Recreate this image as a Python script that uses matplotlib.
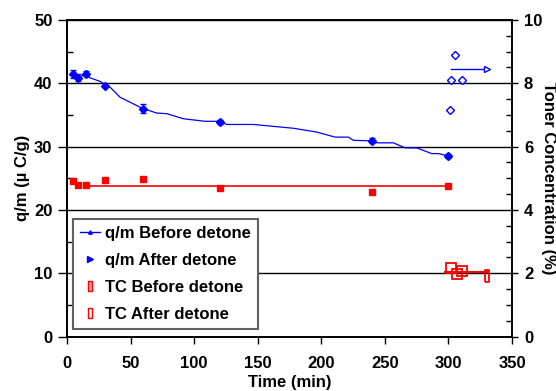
import matplotlib
matplotlib.use("Agg")
import matplotlib.pyplot as plt
from matplotlib.lines import Line2D
from matplotlib.ticker import MultipleLocator

FAMILY = ["Liberation Sans", "DejaVu Sans"]
FS = 12
plt.rcParams["font.family"] = FAMILY
plt.rcParams["font.weight"] = "bold"

BLUE = "#0000ff"
RED = "#ff0000"

# q/m before detone (left axis, uC/g)
qm_before_t = [5, 9, 15, 30, 60, 120, 240, 300]
qm_before = [41.5, 40.9, 41.5, 39.6, 36.0, 33.9, 30.9, 28.5]
qm_before_err = [0.6, 0.6, 0.4, 0.2, 0.7, 0.3, 0.4, 0.3]

# trend line drawn through the before-detone q/m data
qm_line_t = [5, 9, 15, 17.6, 26, 33.8, 41.7, 58.7, 70.5, 78.4, 91.5, 108.5,
             120.3, 125.6, 146.5, 167.5, 178, 196.4, 210.8, 221.3, 225.2,
             239.6, 243.6, 256.7, 265.9, 275, 286.8, 292.1, 300.5]
qm_line = [41.5, 40.9, 41.5, 40.9, 40.3, 39.4, 37.8, 36.1, 35.3, 35.2, 34.4,
           34.0, 34.0, 33.5, 33.5, 33.1, 32.9, 32.3, 31.5, 31.5, 31.0, 30.9,
           30.6, 30.6, 29.8, 29.8, 28.9, 28.9, 28.5]

# q/m after detone
qm_after_t = [301.3, 302, 305.5, 311]
qm_after = [35.8, 40.5, 44.5, 40.5]
qm_after_last_t = 330.6
qm_after_last = 42.3
qm_after_line_t = [302, 330.6]

# toner concentration (right axis, %)
tc_before_t = [5, 9, 15, 30, 60, 120, 240, 300]
tc_before = [4.90, 4.80, 4.80, 4.94, 4.98, 4.69, 4.56, 4.77]
tc_before_mean_t = [15, 300]
tc_before_mean = 4.77

tc_after_t = [302, 306.5, 310.5]
tc_after = [2.16, 1.98, 2.06]
tc_after_last_t = 330.6
tc_after_last = 1.93
tc_after_line_t = [297.5, 331]
tc_after_mean = 2.03

# narrow upright rectangle used as a marker
TALL_RECT = [(-0.35, -1), (0.35, -1), (0.35, 1), (-0.35, 1), (-0.35, -1)]

fig = plt.figure(figsize=(5.56, 3.91), dpi=100)
ax = fig.add_axes([0.1205, 0.139, 0.8005, 0.81])
ax2 = ax.twinx()

# --- left axis -------------------------------------------------------------
ax.plot(qm_line_t, qm_line, color=BLUE, lw=0.9, zorder=3)
ax.errorbar(qm_before_t, qm_before, yerr=qm_before_err, fmt="D", color=BLUE,
            ms=4.5, capsize=2, elinewidth=1, zorder=4)
ax.plot(qm_after_t, qm_after, "D", ms=4.5, mfc="white", mec=BLUE, mew=1,
        zorder=4)
ax.plot(qm_after_line_t, [qm_after_last] * 2, color=BLUE, lw=1, zorder=3)
ax.plot([qm_after_last_t], [qm_after_last], ">", ms=4, mfc="white", mec=BLUE,
        mew=1, zorder=4)

ax.set_xlim(0, 350)
ax.set_ylim(0, 50)
ax.xaxis.set_major_locator(MultipleLocator(50))
ax.yaxis.set_major_locator(MultipleLocator(10))
ax.yaxis.set_minor_locator(MultipleLocator(5))
ax.tick_params(axis="x", which="major", direction="out", length=5,
               width=1, labelsize=FS, pad=9)
ax.tick_params(axis="y", which="major", direction="out", length=6.5,
               width=1, labelsize=FS, pad=4)
ax.tick_params(axis="y", which="minor", direction="in", length=4, width=1)
ax.yaxis.grid(True, which="major", color="black", lw=1)
ax.set_axisbelow(True)
for sp in ax.spines.values():
    sp.set_linewidth(1.2)

ax.set_xlabel("Time (min)", fontsize=FS, fontweight="bold", va="center")
ax.xaxis.set_label_coords(0.5, -0.146)
ax.set_ylabel("q/m (\u00b5 C/g)", fontsize=FS, fontweight="bold",
              va="center", ha="center")
ax.yaxis.set_label_coords(-0.101, 0.5)

# --- right axis ------------------------------------------------------------
ax2.errorbar(tc_before_t, tc_before, yerr=0.06, fmt="s", color=RED, ms=5,
             capsize=2, elinewidth=1, zorder=4)
ax2.plot(tc_before_mean_t, [tc_before_mean] * 2, color=RED, lw=1.2, zorder=3)
ax2.plot(tc_after_line_t, [tc_after_mean] * 2, color=RED, lw=1.5, zorder=3)
ax2.plot(tc_after_t, tc_after, "s", ms=6.5, mfc="none", mec=RED, mew=1.3,
         zorder=4)
ax2.plot([tc_after_last_t], [tc_after_last], marker=TALL_RECT, ms=9,
         mfc="none", mec=RED, mew=1.3, ls="none", zorder=4)

ax2.set_ylim(0, 10)
ax2.yaxis.set_major_locator(MultipleLocator(2))
ax2.yaxis.set_minor_locator(MultipleLocator(0.5))
ax2.tick_params(axis="y", which="major", direction="out", length=4.5, width=1,
                labelsize=FS, pad=4)
ax2.tick_params(axis="y", which="minor", direction="in", length=4, width=1)
ax2.set_ylabel("Toner Concentration (%)", fontsize=FS, fontweight="bold",
               rotation=270, va="center", ha="center")
ax2.yaxis.set_label_coords(1.081, 0.5)
for sp in ax2.spines.values():
    sp.set_linewidth(1.2)

# --- legend ----------------------------------------------------------------
handles = [
    Line2D([], [], color=BLUE, lw=1, marker="^", ms=2.5),
    Line2D([], [], color=BLUE, ls="none", marker=">", ms=4),
    Line2D([], [], color=RED, ls="none", marker=TALL_RECT, ms=7,
           mfc="#ff9999", mec=RED),
    Line2D([], [], color=RED, ls="none", marker=TALL_RECT, ms=7,
           mfc="white", mec=RED),
]
labels = ["q/m Before detone", "q/m After detone", "TC Before detone",
          "TC After detone"]
leg = ax2.legend(handles, labels, loc="upper left",
                 bbox_to_anchor=(0.013, 0.372), borderaxespad=0,
                 fancybox=False, frameon=True,
                 prop={"family": FAMILY, "weight": "bold", "size": FS},
                 handlelength=1.2, handletextpad=0.3, labelspacing=0.72,
                 borderpad=0.42)
leg.get_frame().set_edgecolor("#606060")
leg.get_frame().set_linewidth(1.5)
leg.get_frame().set_alpha(1)

fig.savefig("out.png", dpi=100)
